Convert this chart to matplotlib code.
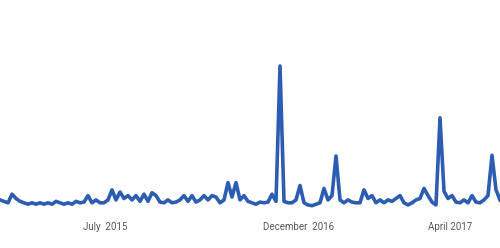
import matplotlib.pyplot as plt
import numpy as np

# interest over time (relative, peak = 100)
values = [7, 6, 5, 11, 8, 6, 5, 4, 5, 4, 5, 4, 5, 4, 6, 5, 4, 5, 4, 6,
          5, 5.5, 10, 5, 7, 5, 5, 7, 14, 7, 12.5, 8, 10, 7, 10, 6, 11, 6, 12, 10,
          5.5, 5, 7, 5, 5.5, 7, 10, 6, 10, 5.5, 7, 10, 7, 10, 9, 5, 7, 19, 9, 19,
          7, 10, 6, 5, 4, 5.5, 5, 5.5, 11, 6, 100, 6, 5, 5, 7, 17, 5, 3.5, 3, 4,
          5, 15, 7, 10, 37.5, 7, 5, 7, 5.5, 5, 5, 14, 8, 10, 5, 7, 5, 7, 6, 8,
          10, 5, 3.5, 5, 7, 8, 15, 10, 5.5, 3.5, 64, 13, 8, 10, 5.5, 5, 7, 5, 10, 5.5,
          5, 7, 10, 38, 14, 7]
tick_pos = [26.25, 74.75, 112.6]
tick_labels = ["July  2015", "December  2016", "April 2017"]

fig = plt.figure(figsize=(5, 2.48), dpi=100)
ax = fig.add_axes([0, 38 / 248, 1, 158.4 / 248])
x = np.arange(len(values))
ax.plot(x, values, color="#2c5db2", lw=2.6, solid_joinstyle="round")
ax.set_xlim(0, len(values) - 1)
ax.set_ylim(0, 110)
ax.set_yticks([])
ax.set_xticks(tick_pos)
ax.set_xticklabels(tick_labels, fontsize=7, color="#555555", family="Roboto")
ax.tick_params(axis="x", length=0, pad=8.5)
for s in ax.spines.values():
    s.set_visible(False)

fig.savefig("out.png", dpi=100)
